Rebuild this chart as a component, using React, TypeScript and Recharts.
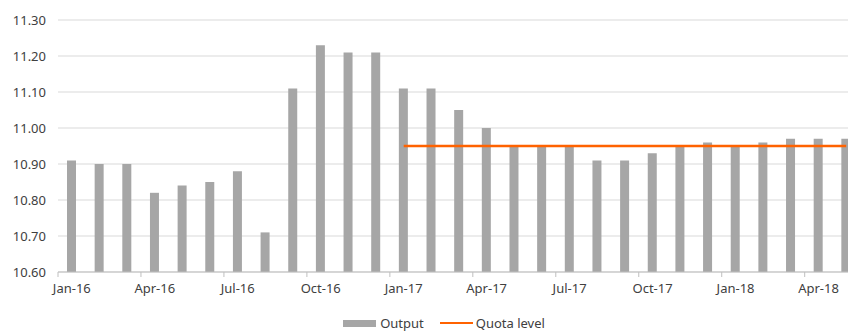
import { ComposedChart, Bar, Line, XAxis, YAxis, CartesianGrid, Legend } from "recharts";

const months = [
  "Jan-16", "Feb-16", "Mar-16", "Apr-16", "May-16", "Jun-16", "Jul-16", "Aug-16", "Sep-16", "Oct-16", "Nov-16", "Dec-16",
  "Jan-17", "Feb-17", "Mar-17", "Apr-17", "May-17", "Jun-17", "Jul-17", "Aug-17", "Sep-17", "Oct-17", "Nov-17", "Dec-17",
  "Jan-18", "Feb-18", "Mar-18", "Apr-18", "May-18",
];

const output = [
  10.91, 10.9, 10.9, 10.82, 10.84, 10.85, 10.88, 10.71, 11.11, 11.23, 11.21, 11.21,
  11.11, 11.11, 11.05, 11.0, 10.95, 10.95, 10.95, 10.91, 10.91, 10.93, 10.95, 10.96,
  10.95, 10.96, 10.97, 10.97, 10.97,
];

const quota: (number | null)[] = [
  null, null, null, null, null, null, null, null, null, null, null, null,
  10.95, 10.95, 10.95, 10.95, 10.95, 10.95, 10.95, 10.95, 10.95, 10.95, 10.95, 10.95,
  10.95, 10.95, 10.95, 10.95, 10.95,
];

const yTicks = [10.6, 10.7, 10.8, 10.9, 11.0, 11.1, 11.2, 11.3];

const data = months.map((m, i) => ({ month: m, output: output[i], quota: quota[i] }));

const FONT = "'Noto Sans', sans-serif";
const TEXT = "#404040";
const CHART_W = 870;
const MARGIN = { top: 20, right: 10, left: 0, bottom: 0 };
const Y_W = 58;
const band = (CHART_W - MARGIN.left - MARGIN.right - Y_W) / months.length;

const MonthTick = (props: any) => {
  const { x, y, payload } = props;
  const lx = x - band / 2;
  return (
    <g>
      <line x1={lx} x2={lx} y1={y - 5} y2={y} stroke="#bfbfbf" />
      <text x={x} y={y + 16} textAnchor="middle" fill={TEXT} fontSize={13} fontFamily={FONT}>
        {payload.value}
      </text>
    </g>
  );
};

const LegendBox = () => (
  <div style={{ display: "flex", justifyContent: "center", alignItems: "center", fontFamily: FONT, fontSize: 13, color: TEXT, paddingTop: 12, paddingLeft: 28 }}>
    <span style={{ display: "inline-block", width: 33, height: 7, background: "#a6a6a6", marginRight: 4 }} />
    <span style={{ marginRight: 16 }}>Output</span>
    <span style={{ display: "inline-block", width: 33, height: 2, background: "#ff6200", marginRight: 3 }} />
    <span>Quota level</span>
  </div>
);

export default function App() {
  return (
    <div style={{ position: "absolute", left: 0, top: 0, width: 848, height: 332, overflow: "hidden", background: "#fff" }}>
      <ComposedChart width={CHART_W} height={332} data={data} margin={MARGIN}>
        <CartesianGrid vertical={false} stroke="#d9d9d9" />
        <XAxis
          dataKey="month"
          interval={2}
          height={30}
          tickSize={5}
          tickMargin={0}
          tickLine={false}
          stroke="#bfbfbf"
          tick={<MonthTick />}
        />
        <YAxis
          domain={[10.6, 11.3]}
          ticks={yTicks}
          width={Y_W}
          axisLine={false}
          tickLine={false}
          tickMargin={6}
          tickFormatter={(v: number) => v.toFixed(2)}
          tick={{ fill: TEXT, fontSize: 13, fontFamily: FONT }}
        />
        <Legend verticalAlign="bottom" height={30} content={<LegendBox />} />
        <Bar dataKey="output" name="Output" fill="#a6a6a6" barSize={9} isAnimationActive={false} />
        <Line
          dataKey="quota"
          name="Quota level"
          type="linear"
          stroke="#ff6200"
          strokeWidth={2.5}
          dot={false}
          activeDot={false}
          connectNulls={false}
          isAnimationActive={false}
        />
      </ComposedChart>
    </div>
  );
}
